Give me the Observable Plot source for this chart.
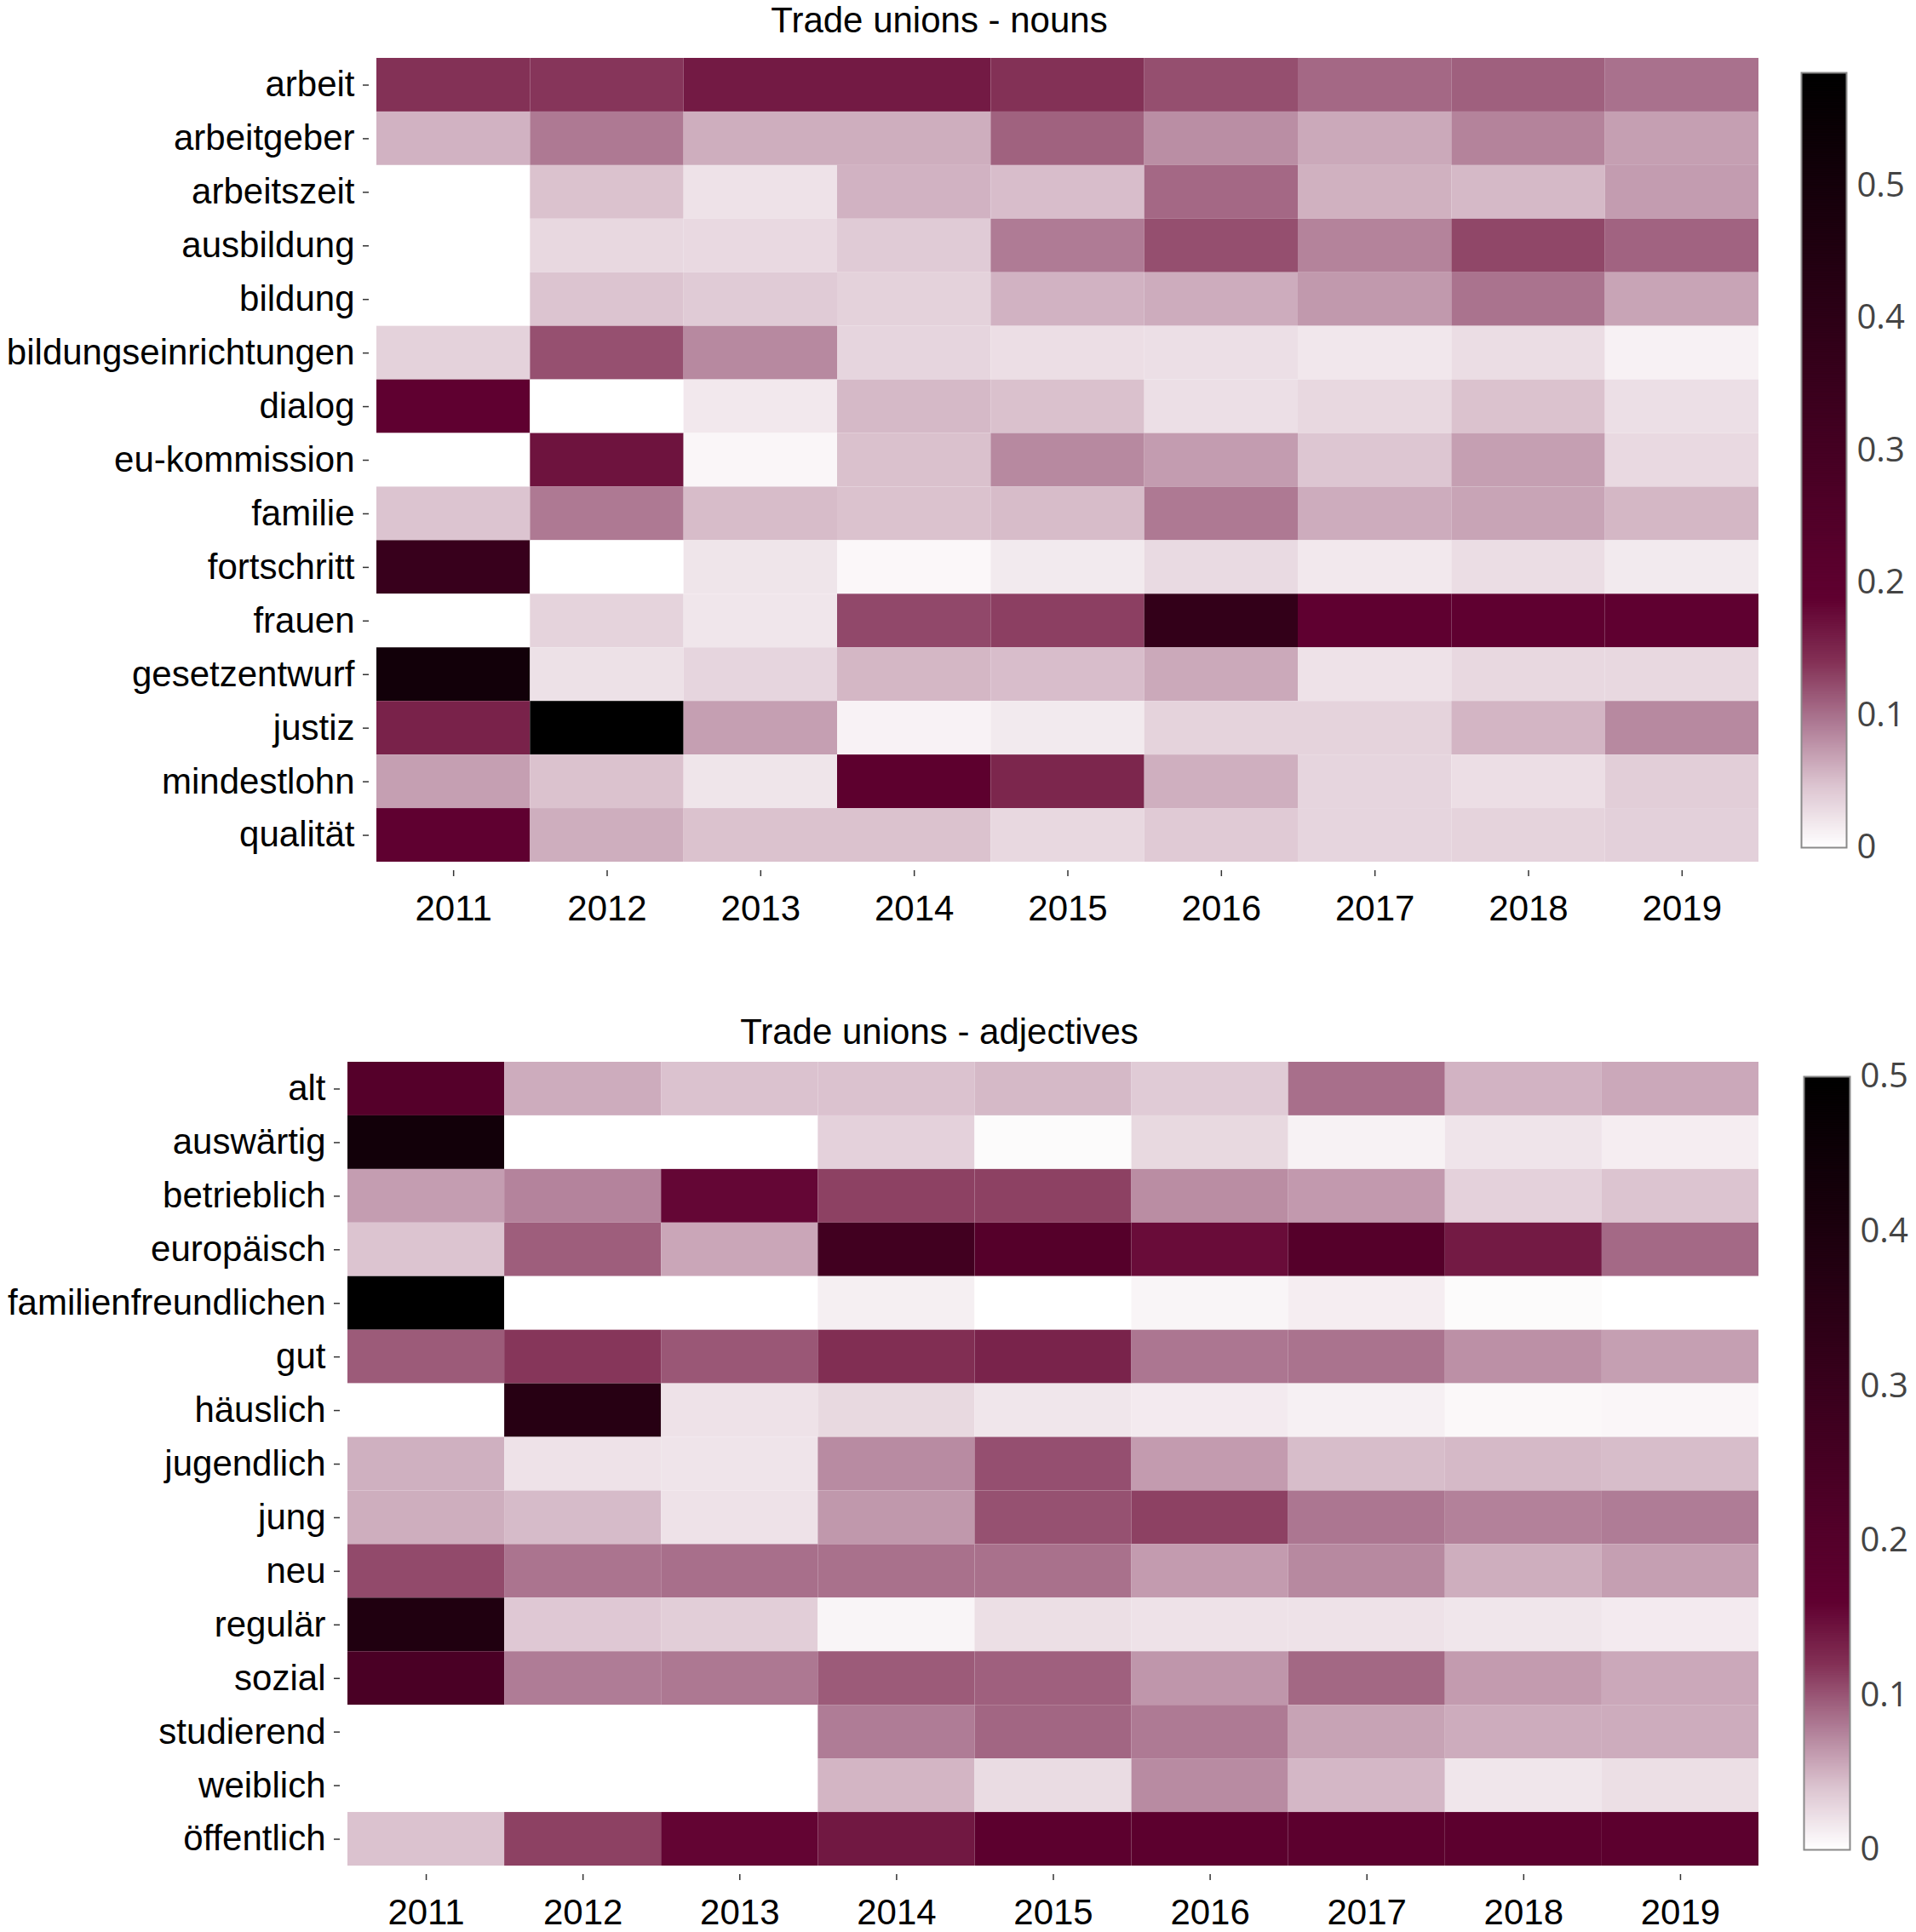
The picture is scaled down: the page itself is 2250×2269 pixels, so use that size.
<!DOCTYPE html>
<html>
<head>
<meta charset="utf-8">
<script src="https://cdn.jsdelivr.net/npm/d3@7"></script>
<script src="https://cdn.jsdelivr.net/npm/@observablehq/plot@0.6"></script>
<style>
  body { margin: 0; background: #fff; }
  #root { position: relative; width: 2250px; height: 2269px; background: #fff; overflow: hidden; }
  .title { position: absolute; left: 0; width: 2206px; text-align: center;
           font-family: "Liberation Sans", Arial, sans-serif; font-size: 42px; line-height: 42px; color: #000; }
  .abs { position: absolute; }
</style>
</head>
<body>
<div id="root"></div>
<script>
// ---------- data ----------
const years = ["2011", "2012", "2013", "2014", "2015", "2016", "2017", "2018", "2019"];

const nounWords = ["arbeit", "arbeitgeber", "arbeitszeit", "ausbildung", "bildung",
  "bildungseinrichtungen", "dialog", "eu-kommission", "familie", "fortschritt",
  "frauen", "gesetzentwurf", "justiz", "mindestlohn", "qualität"];

const nounValues = [
  [0.140, 0.137, 0.162, 0.162, 0.140, 0.121, 0.105, 0.110, 0.099],
  [0.058, 0.094, 0.061, 0.061, 0.109, 0.081, 0.064, 0.088, 0.070],
  [0.000, 0.048, 0.023, 0.058, 0.051, 0.105, 0.059, 0.054, 0.072],
  [0.000, 0.031, 0.030, 0.041, 0.093, 0.121, 0.088, 0.126, 0.108],
  [0.000, 0.047, 0.041, 0.036, 0.058, 0.062, 0.074, 0.098, 0.067],
  [0.036, 0.120, 0.084, 0.033, 0.026, 0.025, 0.019, 0.027, 0.011],
  [0.190, 0.000, 0.018, 0.054, 0.049, 0.025, 0.031, 0.048, 0.025],
  [0.000, 0.169, 0.007, 0.049, 0.084, 0.072, 0.045, 0.070, 0.030],
  [0.047, 0.094, 0.052, 0.048, 0.052, 0.094, 0.062, 0.067, 0.055],
  [0.353, 0.000, 0.021, 0.006, 0.017, 0.029, 0.018, 0.027, 0.017],
  [0.000, 0.035, 0.020, 0.125, 0.131, 0.374, 0.190, 0.190, 0.190],
  [0.510, 0.024, 0.033, 0.055, 0.051, 0.064, 0.023, 0.031, 0.031],
  [0.154, 0.585, 0.070, 0.010, 0.017, 0.035, 0.035, 0.056, 0.084],
  [0.070, 0.048, 0.021, 0.200, 0.150, 0.060, 0.033, 0.026, 0.039],
  [0.190, 0.061, 0.048, 0.048, 0.031, 0.042, 0.033, 0.035, 0.037]
];

const adjWords = ["alt", "auswärtig", "betrieblich", "europäisch", "familienfreundlichen",
  "gut", "häuslich", "jugendlich", "jung", "neu", "regulär", "sozial",
  "studierend", "weiblich", "öffentlich"];

const adjValues = [
  [0.199, 0.053, 0.041, 0.041, 0.046, 0.035, 0.086, 0.049, 0.055],
  [0.436, 0.000, 0.000, 0.031, 0.003, 0.026, 0.009, 0.018, 0.012],
  [0.061, 0.075, 0.155, 0.111, 0.111, 0.070, 0.063, 0.031, 0.040],
  [0.040, 0.095, 0.056, 0.270, 0.200, 0.150, 0.200, 0.138, 0.089],
  [0.500, 0.000, 0.000, 0.011, 0.000, 0.007, 0.012, 0.003, 0.000],
  [0.097, 0.117, 0.099, 0.122, 0.131, 0.082, 0.084, 0.068, 0.060],
  [0.000, 0.362, 0.020, 0.026, 0.017, 0.014, 0.010, 0.005, 0.006],
  [0.051, 0.020, 0.018, 0.071, 0.103, 0.062, 0.044, 0.046, 0.044],
  [0.052, 0.045, 0.020, 0.064, 0.102, 0.111, 0.082, 0.076, 0.079],
  [0.106, 0.083, 0.086, 0.085, 0.085, 0.062, 0.072, 0.052, 0.060],
  [0.387, 0.037, 0.033, 0.007, 0.022, 0.020, 0.020, 0.017, 0.014],
  [0.238, 0.079, 0.081, 0.097, 0.094, 0.065, 0.090, 0.062, 0.055],
  [0.000, 0.000, 0.000, 0.079, 0.091, 0.080, 0.058, 0.053, 0.053],
  [0.000, 0.000, 0.000, 0.048, 0.024, 0.071, 0.047, 0.017, 0.022],
  [0.041, 0.111, 0.157, 0.140, 0.174, 0.174, 0.174, 0.174, 0.174]
];

const nounTicks = [0, 0.1, 0.2, 0.3, 0.4, 0.5];
const adjTicks = [0, 0.1, 0.2, 0.3, 0.4, 0.5];
const nounMax = 0.585;
const adjMax = 0.5;
const rampColors = ["#ffffff", "#dcc4d0", "#ae7a94", "#833055", "#600030", "#000000"];
const rampFractions = [0, 0.08, 0.16, 0.24, 0.32, 1];

// ---------- helpers ----------
const root = document.getElementById("root");
const LABEL_FONT = "'Liberation Sans', Arial, Helvetica, sans-serif";

function toRows(words, values) {
  const rows = [];
  words.forEach((w, i) => years.forEach((y, j) => rows.push({word: w, year: y, value: values[i][j]})));
  return rows;
}

function colorScale(max) {
  return {
    type: "linear",
    domain: rampFractions.map(f => f * max),
    range: rampColors,
    interpolate: d3.interpolateRgb,
    clamp: true
  };
}

function place(el, left, top) {
  el.classList.add("abs");
  el.style.left = left + "px";
  el.style.top = top + "px";
  root.appendChild(el);
}

function addTitle(text, top) {
  const d = document.createElement("div");
  d.className = "title";
  d.style.top = top + "px";
  d.textContent = text;
  root.appendChild(d);
}

function heatmap(words, values, max, box) {
  return Plot.plot({
    width: box.width, height: box.height,
    marginLeft: box.ml, marginRight: box.mr, marginTop: box.mt, marginBottom: box.mb,
    style: {fontFamily: LABEL_FONT, fontSize: "42px", color: "#000", background: "transparent", overflow: "visible"},
    x: {domain: years, padding: 0, round: false, label: null},
    y: {domain: words, padding: 0, round: false, label: null},
    color: colorScale(max),
    marks: [
      Plot.cell(toRows(words, values), {x: "year", y: "word", fill: "value", inset: 0}),
      Plot.axisX({anchor: "bottom", dy: 10, tickSize: 7, tickPadding: 22, fontSize: 42, label: null, stroke: "#333", strokeWidth: 1.5}),
      Plot.axisY({anchor: "left", dx: -9, tickSize: 7, tickPadding: 10, fontSize: 42, label: null, stroke: "#333", strokeWidth: 1.5})
    ]
  });
}

function colorbar(max, ticks, box) {
  const n = 500;
  const step = max / n;
  const grad = d3.range(n).map(i => ({v0: i * step, v1: Math.min(max, (i + 1.6) * step), v: (i + 0.5) * step}));
  return Plot.plot({
    width: box.width, height: box.height,
    marginLeft: box.ml, marginRight: box.mr, marginTop: box.mt, marginBottom: box.mb,
    style: {fontFamily: "'Open Sans', 'DejaVu Sans', sans-serif", fontSize: "40px", background: "transparent", overflow: "visible"},
    x: {domain: [0, 1], axis: null},
    y: {domain: [0, max], axis: null},
    color: colorScale(max),
    marks: [
      Plot.rect(grad, {x1: () => 0, x2: () => 1, y1: "v0", y2: "v1", fill: "v"}),
      Plot.frame({stroke: "#8a8a8a", strokeWidth: 2}),
      Plot.axisY({anchor: "right", ticks: ticks, tickSize: 0, tickPadding: 12, fontSize: 40,
                  fill: "#444", tickFormat: d => d === 0 ? "0" : d3.format(".1f")(d), label: null})
    ]
  });
}

// ---------- top chart: nouns ----------
addTitle("Trade unions - nouns", 3);
place(heatmap(nounWords, nounValues, nounMax,
  {width: 2100, height: 1110, ml: 442, mr: 35, mt: 68, mb: 98}), 0, 0);
place(colorbar(nounMax, nounTicks,
  {width: 150, height: 1110, ml: 15, mr: 82, mt: 85, mb: 115}), 2100, 0);

// ---------- bottom chart: adjectives ----------
addTitle("Trade unions - adjectives", 1191);
place(heatmap(adjWords, adjValues, adjMax,
  {width: 2100, height: 1139, ml: 408, mr: 35, mt: 117, mb: 78}), 0, 1130);
place(colorbar(adjMax, adjTicks,
  {width: 150, height: 1139, ml: 18, mr: 78, mt: 134, mb: 97}), 2100, 1130);
</script>
</body>
</html>
